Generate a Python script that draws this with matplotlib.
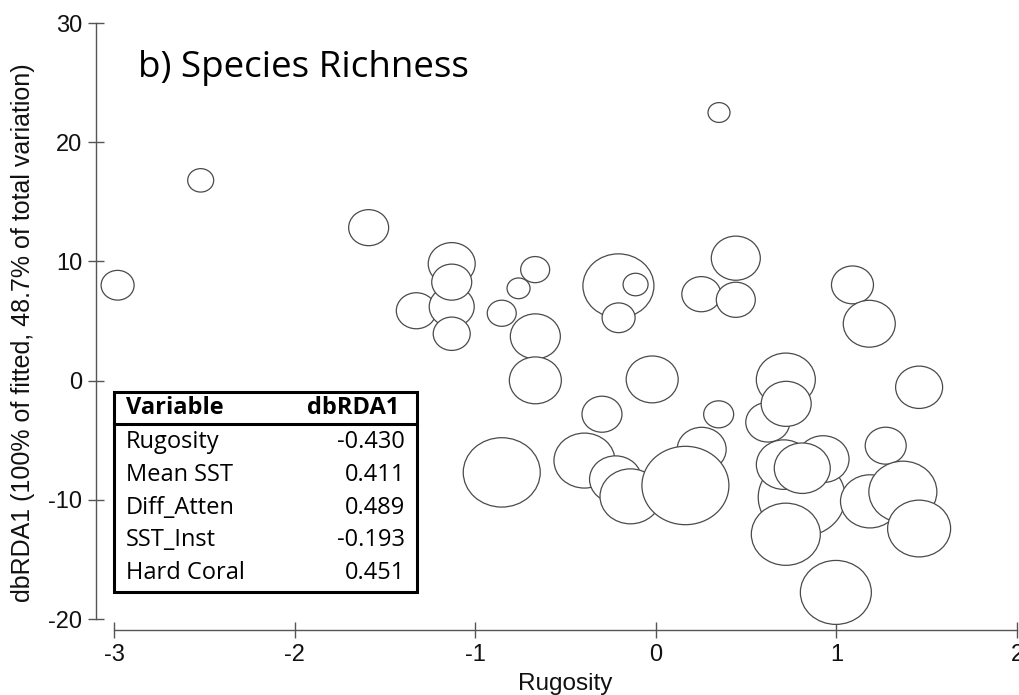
import matplotlib.pyplot as plt
import numpy as np
from matplotlib.path import Path
from matplotlib.patches import Rectangle
from matplotlib.lines import Line2D

# rugosidade (eixo x), escore dbRDA1 (eixo y) e riqueza de especies (bolha)
# a ordem define a sobreposicao: os ultimos ficam por cima
rugosity = [
    -2.98, -2.52, -1.59, -1.13, -1.326, -1.13, -1.13, -1.13,
    -0.76, -0.668, -0.853, -0.667, -0.667,
    -0.207, -0.112, -0.206, -0.020,
    0.443, 0.252, 0.443, 0.350, 1.089, 1.182,
    -0.298, 0.348, 0.720, 0.620, 0.722, 1.458, 1.273,
    -0.853, -0.395, -0.223, -0.140, 0.254, 0.106, 0.164,
    0.808, 0.709, 0.926, 0.811, 0.720, 0.997,
    1.186, 1.368, 1.458,
]
dbrda1 = [
    8.0, 16.8, 12.83, 9.8, 5.86, 6.2, 8.26, 3.93,
    7.74, 9.31, 5.65, 3.71, 0.02,
    7.95, 8.06, 5.27, 0.1,
    10.27, 7.25, 6.78, 22.49, 8.03, 4.77,
    -2.82, -2.83, 0.08, -3.49, -1.95, -0.56, -5.46,
    -7.70, -6.71, -8.28, -9.71, -5.77, -8.12, -8.80,
    -9.79, -7.05, -6.59, -7.35, -12.89, -17.77,
    -10.13, -9.33, -12.41,
]
richness = [
    17, 13.5, 20.5, 24, 20.5, 23, 20.5, 19,
    12, 15, 15, 25.5, 26.5,
    36, 13, 17, 26.5,
    25, 20, 20, 11.5, 21.5, 26.5,
    20.5, 15.5, 30, 22.5, 25.5, 24, 21,
    39, 31, 26.5, 31, 25, 28, 44,
    44, 28, 26.5, 28.5, 35, 36,
    30, 34.5, 32,
]

variables = ["Rugosity", "Mean SST", "Diff_Atten", "SST_Inst", "Hard Coral"]
correlations = [-0.430, 0.411, 0.489, -0.193, 0.451]

plt.rcParams["font.family"] = ["Liberation Sans", "DejaVu Sans"]
plt.rcParams["axes.unicode_minus"] = False

W, H = 1019, 695
fig = plt.figure(figsize=(W / 100, H / 100), dpi=100)
ax = fig.add_axes([114 / W, 1 - 619 / H, 903 / W, 596 / H])


def px(x, y):
    # pixel (origem no topo) -> fracao da figura
    return x / W, 1 - y / H


# bolhas levemente achatadas na vertical
circ = Path.unit_circle()
bolha = Path(circ.vertices * [1.11, 1.0], circ.codes)

largura = np.array(richness) * 2 - 1  # diametro em pixels
ax.scatter(
    rugosity, dbrda1,
    s=(largura * 0.72) ** 2,
    marker=bolha,
    facecolor="white",
    edgecolor="#4a4a4a",
    linewidths=0.9,
    clip_on=False,
    zorder=3,
)

ax.set_xlim(-3, 2)
ax.set_ylim(-20, 30)
ax.set_xticks(np.arange(-3, 3, 1))
ax.set_yticks(np.arange(-20, 31, 10))

for side in ["top", "right"]:
    ax.spines[side].set_visible(False)
ax.spines["left"].set_position(("outward", 12.7))
ax.spines["bottom"].set_position(("outward", 8.2))
for side in ["left", "bottom"]:
    ax.spines[side].set_color("#555555")
    ax.spines[side].set_linewidth(1.0)
ax.tick_params(direction="inout", length=12, width=1, color="#555555",
               pad=4, labelsize=17, labelcolor="#111111")

fig.text(*px(23, 333), "dbRDA1 (100% of fitted, 48.7% of total variation)",
         rotation=90, ha="center", va="center", fontsize=18, color="#111111")
fig.text(*px(565, 684), "Rugosity", ha="center", va="center",
         fontsize=17.5, color="#111111")

fig.text(*px(138, 76.7), "b) Species Richness", ha="left", va="baseline",
         fontsize=26.5, family="Open Sans", color="black")

# tabela com as correlacoes das variaveis com o eixo dbRDA1
x0, y0, x1, y1 = 114.3, 392.3, 416.7, 592.3
fig.add_artist(Rectangle(px(x0, y1), (x1 - x0) / W, (y1 - y0) / H,
                         transform=fig.transFigure, facecolor="white",
                         edgecolor="black", linewidth=2.2, zorder=5))
fig.add_artist(Line2D([x0 / W, x1 / W], [1 - 424 / H] * 2,
                      transform=fig.transFigure, color="black",
                      linewidth=2.2, zorder=6))

fonte = dict(family="Open Sans", fontsize=17, zorder=7)
fig.text(*px(126, 414), "Variable", ha="left", va="baseline",
         weight="bold", **fonte)
fig.text(*px(399, 414), "dbRDA1", ha="right", va="baseline",
         weight="bold", **fonte)
for i, (var, val) in enumerate(zip(variables, correlations)):
    base = 447.7 + 32.9 * i
    fig.text(*px(126, base), var, ha="left", va="baseline", **fonte)
    fig.text(*px(405, base), f"{val:.3f}", ha="right", va="baseline", **fonte)

fig.savefig("out.png", dpi=100, facecolor="white")
